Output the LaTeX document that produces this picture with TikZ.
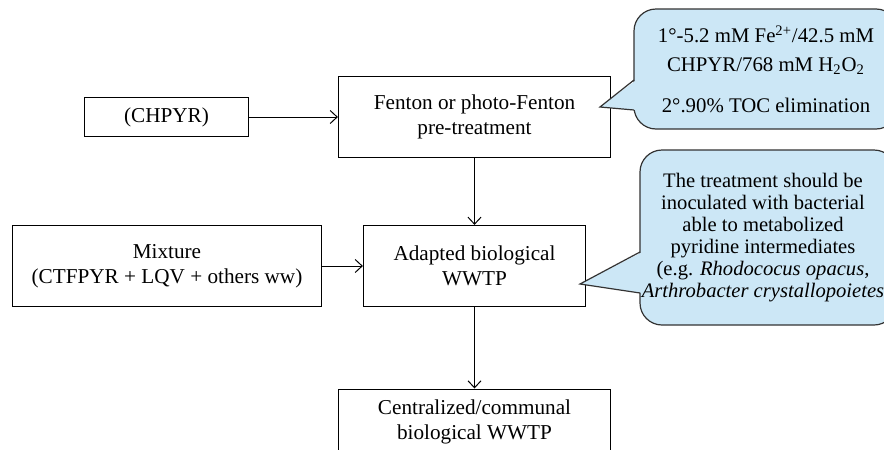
\documentclass[tikz,border=0pt]{standalone}
\usepackage{fontspec}
\setmainfont{Liberation Serif}
\usepackage{tikz}
\usetikzlibrary{arrows.meta}
\definecolor{calloutfill}{HTML}{CCE7F6}
\definecolor{calloutline}{HTML}{333333}

\begin{document}
\begin{tikzpicture}[x=0.5pt, y=-0.5pt, >={Straight Barb[length=3.5pt,width=6.5pt]},
    box/.style={draw, line width=0.6pt, align=center, inner sep=2pt, font=\fontsize{10.6}{12.6}\selectfont},
    bubble/.style={draw=calloutline, fill=calloutfill, line width=0.6pt, rounded corners=11pt, align=center, inner sep=2pt}]

                \clip (0,0) rectangle (884,450);

                % Nodes
                \node at (166.5,117) (chpyr) [box, minimum width=82pt, minimum height=19.5pt] {(CHPYR)};
                \node at (474.5,117) (fenton) [box, minimum width=136pt, minimum height=40.5pt] {Fenton or photo-Fenton\\pre-treatment};
                \node at (167,266) (mixture) [box, minimum width=154.5pt, minimum height=40.5pt] {Mixture\\(CTFPYR + LQV + others ww)};
                \node at (474.5,266) (adapted) [box, minimum width=111pt, minimum height=40.5pt] {Adapted biological\\WWTP};
                \node at (474.5,388.5) (central) [box, anchor=north, minimum width=136pt, minimum height=33pt] {Centralized/communal\\biological WWTP};

                % Callouts
                \node at (766,69) (note1) [bubble, minimum width=132pt, minimum height=60pt, font=\fontsize{10.4}{14.5}\selectfont]
                    {1°-5.2 mM Fe\textsuperscript{2+}/42.5 mM\\CHPYR/768 mM H\textsubscript{2}O\textsubscript{2}\\[6pt]2°.90\% TOC elimination};
                \node at (768,237.5) (note2) [bubble, minimum width=128pt, minimum height=87.5pt] {};
                \node at (763,237.5) (note2text) [align=center, inner sep=0pt, font=\fontsize{10.3}{11}\selectfont]
                    {The treatment should be\\inoculated with bacterial\\able to metabolized\\pyridine intermediates\\(e.g. \textit{Rhodococus opacus},\\\textit{Arthrobacter crystallopoietes}};
                \coordinate (tip1) at (600,107);
                \coordinate (t1a) at (634,80);
                \coordinate (t1b) at (634,110);
                \coordinate (tip2) at (580,284);
                \coordinate (t2a) at (640,252);
                \coordinate (t2b) at (640,293);
                \fill[calloutfill] ([xshift=1.2pt]t1a) -- (tip1) -- ([xshift=1.2pt]t1b) -- cycle;
                \draw[calloutline, line width=0.6pt] (t1a) -- (tip1) -- (t1b);
                \fill[calloutfill] ([xshift=1.2pt]t2a) -- (tip2) -- ([xshift=1.2pt]t2b) -- cycle;
                \draw[calloutline, line width=0.6pt] (t2a) -- (tip2) -- (t2b);

                % Arrows
                \draw[->, line width=0.5pt] (chpyr) -- (fenton);
                \draw[->, line width=0.5pt] (fenton) -- (adapted);
                \draw[->, line width=0.5pt] (mixture) -- (adapted);
                \draw[->, line width=0.5pt] (adapted) -- (central);
            \end{tikzpicture}
\end{document}
